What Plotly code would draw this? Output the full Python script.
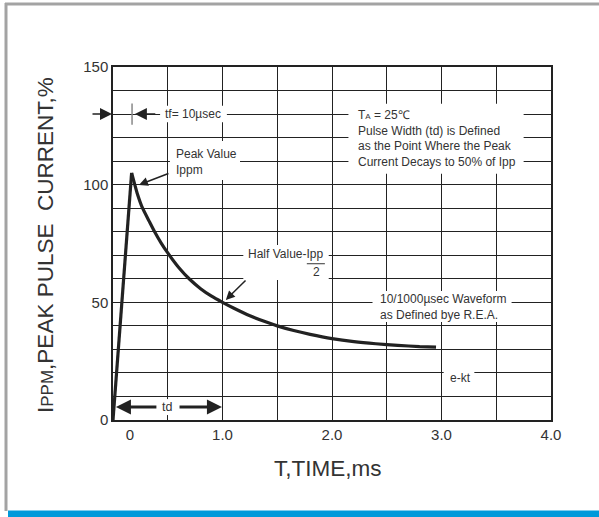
import plotly.graph_objects as go

# ---- data ----
rise_t = [0.0, 0.17]
rise_v = [0.0, 105.0]
decay_t = [0.17, 0.22, 0.27, 0.33, 0.38, 0.44, 0.50, 0.60, 0.70, 0.80, 0.90, 1.00, 1.10,
           1.25, 1.40, 1.50, 1.65, 1.80, 2.00, 2.20, 2.40, 2.60, 2.80, 2.95]
decay_v = [105.0, 96.5, 90.0, 84.5, 80.0, 75.2, 71.0, 64.8, 59.8, 55.8, 52.6, 50.0, 47.6,
           44.3, 41.6, 40.0, 38.0, 36.4, 34.6, 33.3, 32.4, 31.7, 31.2, 31.0]

x_tick_vals = [0.155, 1, 2, 3, 4]
x_tick_text = ["0", "1.0", "2.0", "3.0", "4.0"]
x_grid_vals = [0.5, 1.0, 1.5, 2.0, 2.5, 3.0, 3.5]
y_tick_vals = [0, 50, 100, 150]
y_tick_text = ["0", "50", "100", "150"]

FONT = "Liberation Sans, Arial, sans-serif"
INK = "#222222"
TXT = "#333333"

fig = go.Figure()
fig.add_trace(go.Scatter(x=rise_t, y=rise_v, mode="lines",
                         line=dict(color=INK, width=3.2), hoverinfo="skip", showlegend=False))
fig.add_trace(go.Scatter(x=decay_t, y=decay_v, mode="lines",
                         line=dict(color=INK, width=3.2, shape="spline", smoothing=0.5),
                         hoverinfo="skip", showlegend=False))

shapes = []
# white backgrounds behind texts (between gridlines and traces)
bg_boxes = [
    (0.43, 1.04, 126.5, 133.5),   # tf
    (0.52, 1.16, 102.0, 118.6),   # Peak Value
    (1.19, 1.97, 59.5, 74.4),     # Half Value
    (2.15, 3.75, 104.6, 134.4),   # TA block
    (2.37, 3.64, 41.6, 54.8),     # waveform
    (3.02, 3.30, 14.4, 21.7),     # e-kt
    (0.41, 0.59, 2.1, 8.9),       # td
]
for x0, x1, y0, y1 in bg_boxes:
    shapes.append(dict(type="rect", xref="x", yref="y", x0=x0, x1=x1, y0=y0, y1=y1,
                       fillcolor="white", line=dict(width=0), layer="between"))
# fraction bar under Ipp
shapes.append(dict(type="line", xref="x", yref="y", x0=1.77, x1=1.935, y0=66.4, y1=66.4,
                   line=dict(color=TXT, width=1), layer="above"))
# tf gray tick
shapes.append(dict(type="line", xref="x", yref="y", x0=0.174, x1=0.174, y0=125.5, y1=134.5,
                   line=dict(color="#888888", width=1.5), layer="above"))


def px_x(p):
    return (p - 113) / 438.0


def px_y(p):
    return (420 - p) / 353.0


# page frame
shapes.append(dict(type="line", xref="paper", yref="paper", x0=px_x(5), x1=px_x(600),
                   y0=px_y(4), y1=px_y(4), line=dict(color="#a3a3a3", width=3)))
shapes.append(dict(type="line", xref="paper", yref="paper", x0=px_x(6), x1=px_x(6),
                   y0=px_y(3), y1=px_y(511), line=dict(color="#a3a3a3", width=3)))
shapes.append(dict(type="rect", xref="paper", yref="paper", x0=px_x(8), x1=px_x(600),
                   y0=px_y(510.5), y1=px_y(518), fillcolor="#0099da", line=dict(width=0)))

ann = []


def text(x, y, s, size=12, xa="left", ya="middle", align="left"):
    ann.append(dict(x=x, y=y, xref="x", yref="y", text=s, showarrow=False,
                    xanchor=xa, yanchor=ya, align=align,
                    font=dict(family=FONT, size=size, color=TXT)))


def arrow(hx, hy, tx, ty, w=2, size=1.0):
    ann.append(dict(x=hx, y=hy, ax=tx, ay=ty, xref="x", yref="y", axref="x", ayref="y",
                    text="", showarrow=True, arrowhead=2, arrowsize=size, arrowwidth=w,
                    arrowcolor=INK, standoff=0, startstandoff=0))


text(0.457, 130, "tf= 10µsec")
text(0.557, 109.6, "Peak Value<br>Ippm")
text(1.936, 70.5, "Half Value-Ipp", xa="right")
text(1.86, 63.0, "2", xa="center")
text(2.22, 119.5, "T<span style='font-size:8px'>A</span> = 25℃<br>Pulse Width (td) is Defined<br>"
     "as the Point Where the Peak<br>Current Decays to 50% of Ipp", size=12)
text(2.42, 48.2, "10/1000µsec Waveform<br>as Defined bye R.E.A.", size=12)
text(3.17, 17.8, "e-kt", xa="center")
text(0.49, 5.5, "td", xa="center", size=12.5)

# arrow left of the plot (paper reference so it is not hidden)
ann.append(dict(x=px_x(112), y=130, xref="paper", yref="y", ax=-21, ay=0,
                axref="pixel", ayref="pixel", text="", showarrow=True, arrowhead=2,
                arrowsize=1.5, arrowwidth=1.6, arrowcolor=INK, standoff=0))
arrow(0.20, 130, 0.40, 130, w=1.6, size=1.5)
arrow(0.237, 99.9, 0.52, 105, w=1.5, size=1.2)
arrow(1.03, 51, 1.224, 59.9, w=1.5, size=1.2)
arrow(0.027, 5.5, 0.41, 5.5, w=3, size=1.0)
arrow(0.995, 5.5, 0.594, 5.5, w=3, size=1.0)

# axis titles
ann.append(dict(x=px_x(45), y=px_y(245), xref="paper", yref="paper", showarrow=False,
                textangle=-90, xanchor="center", yanchor="middle",
                text="I<span style='font-size:17px'>PPM</span>,PEAK PULSE\u00a0\u00a0CURRENT,%",
                font=dict(family=FONT, size=22.5, color=TXT)))
ann.append(dict(x=px_x(328), y=px_y(468), xref="paper", yref="paper", showarrow=False,
                xanchor="center", yanchor="middle", text="T,TIME,ms",
                font=dict(family=FONT, size=22.5, color=TXT)))

fig.update_layout(
    width=599, height=517,
    margin=dict(l=113, r=48, t=67, b=97),
    paper_bgcolor="white", plot_bgcolor="white",
    shapes=shapes, annotations=ann,
    xaxis=dict(range=[0, 4], tickmode="array", tickvals=x_tick_vals, ticktext=x_tick_text,
               showgrid=False, zeroline=False, showline=True, mirror=True,
               linecolor=INK, linewidth=1.5, ticks="",
               tickfont=dict(family=FONT, size=15, color=TXT),
               minor=dict(tickmode="array", tickvals=x_grid_vals, showgrid=True,
                          gridcolor=INK, gridwidth=1.3, ticks="")),
    yaxis=dict(range=[0, 150], tickmode="array", tickvals=y_tick_vals, ticktext=y_tick_text,
               showgrid=True, gridcolor=INK, gridwidth=1.3, zeroline=False,
               showline=True, mirror=True, linecolor=INK, linewidth=1.5, ticks="",
               tickfont=dict(family=FONT, size=15, color=TXT),
               minor=dict(dtick=10, tick0=0, showgrid=True, gridcolor=INK, gridwidth=1.3, ticks="")),
)

fig.write_html("out.html",
               config={"displayModeBar": False},
               post_script="document.body.style.margin='0px';document.body.style.padding='0px';"
                           "document.body.style.overflow='hidden';")
